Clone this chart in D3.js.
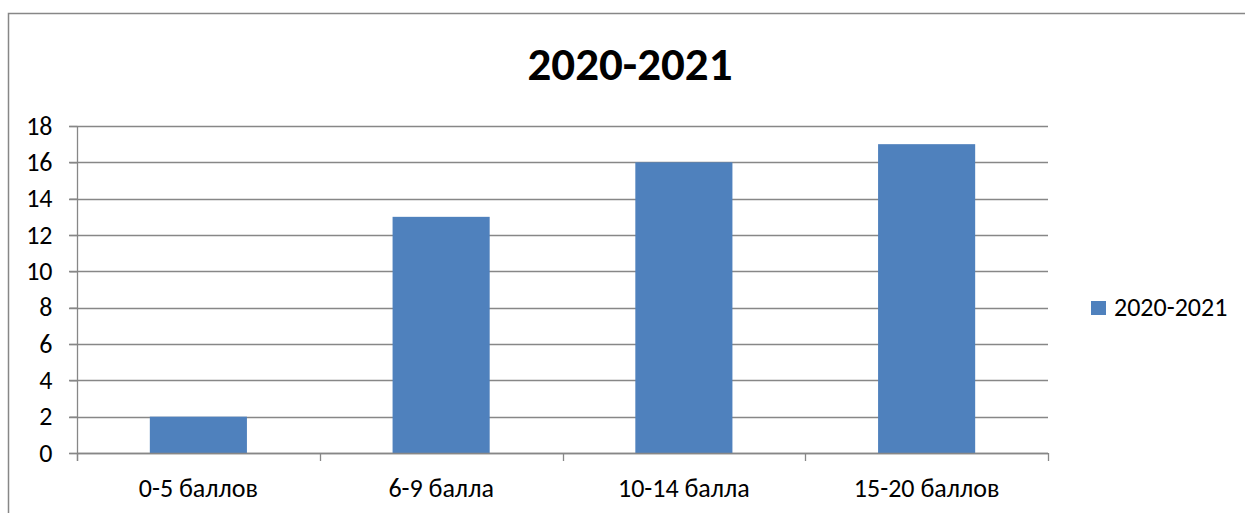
<!DOCTYPE html>
<html><head><meta charset="utf-8">
<script src="https://cdn.jsdelivr.net/npm/d3@7"></script>
<style>body{margin:0;background:#fff}svg{display:block}text{font-family:Carlito,"Liberation Sans",Arial,sans-serif}</style>
</head><body>
<script>
const categories = ["0-5 баллов", "6-9 балла", "10-14 балла", "15-20 баллов"];
const values = [2, 13, 16, 17];
const seriesName = "2020-2021";
const yTicks = [0, 2, 4, 6, 8, 10, 12, 14, 16, 18];

(function () {
const W = 1245, H = 513;
const svg = d3.select("body").append("svg").attr("width", W).attr("height", H);
const grey = "#878787", barColor = "#4F81BD";
const fs = 26;

svg.append("rect").attr("x", 8.5).attr("y", 13.5).attr("width", 1400).attr("height", 800)
  .attr("fill", "none").attr("stroke", grey).attr("stroke-width", 1.5);

const pLeft = 77, pRight = 1048, pTop = 126, pBottom = 453;
const x = d3.scaleBand().domain(categories).range([pLeft, pRight]).paddingInner(0.6).paddingOuter(0.3);
const y = d3.scaleLinear().domain([0, 18]).range([pBottom, pTop]);

// gridlines
svg.append("g").selectAll("line").data(yTicks).join("line")
  .attr("x1", pLeft - 8).attr("x2", pRight)
  .attr("y1", d => Math.round(y(d)) + 0.5).attr("y2", d => Math.round(y(d)) + 0.5)
  .attr("stroke", grey).attr("stroke-width", 1.3);

// bars
svg.append("g").selectAll("rect").data(values).join("rect")
  .attr("x", (d, i) => x(categories[i])).attr("width", x.bandwidth())
  .attr("y", d => y(d)).attr("height", d => y(0) - y(d)).attr("fill", barColor);

// y axis
const yAxis = d3.axisLeft(y).tickValues(yTicks).tickSize(8).tickPadding(17);
const gy = svg.append("g").attr("transform", `translate(${pLeft + 0.5},0)`).call(yAxis);
gy.select(".domain").attr("d", `M0,${pTop}V${pBottom + 8}`).attr("stroke", grey).attr("stroke-width", 1.3);
gy.selectAll(".tick line").attr("stroke", grey).attr("stroke-width", 1.3);
gy.selectAll(".tick text").attr("font-size", fs).attr("fill", "#000")
  .style("font-family", 'Carlito,"Liberation Sans",Arial,sans-serif');

// x axis line and category boundary ticks
const gx = svg.append("g");
gx.append("line").attr("x1", pLeft).attr("x2", pRight).attr("y1", pBottom + 0.5).attr("y2", pBottom + 0.5)
  .attr("stroke", grey).attr("stroke-width", 1.3);
const bounds = [pLeft].concat(categories.slice(1).map(c => x(c) - (x.step() - x.bandwidth()) / 2), [pRight]);
gx.selectAll("line.b").data(bounds).join("line").attr("class", "b")
  .attr("x1", d => Math.round(d) + 0.5).attr("x2", d => Math.round(d) + 0.5)
  .attr("y1", pBottom).attr("y2", pBottom + 8).attr("stroke", grey).attr("stroke-width", 1.3);
gx.selectAll("text").data(categories).join("text")
  .attr("x", d => x(d) + x.bandwidth() / 2).attr("y", 497)
  .attr("text-anchor", "middle").attr("font-size", fs).attr("fill", "#000").text(d => d);

// title
svg.append("text").attr("x", 630).attr("y", 80).attr("text-anchor", "middle")
  .attr("font-size", 47).attr("font-weight", "bold").attr("fill", "#000").text(seriesName);

// legend
svg.append("rect").attr("x", 1091).attr("y", 301).attr("width", 15).attr("height", 14).attr("fill", barColor);
svg.append("text").attr("x", 1114).attr("y", 316).attr("font-size", fs).attr("fill", "#000").text(seriesName);
})();
</script>
</body></html>
